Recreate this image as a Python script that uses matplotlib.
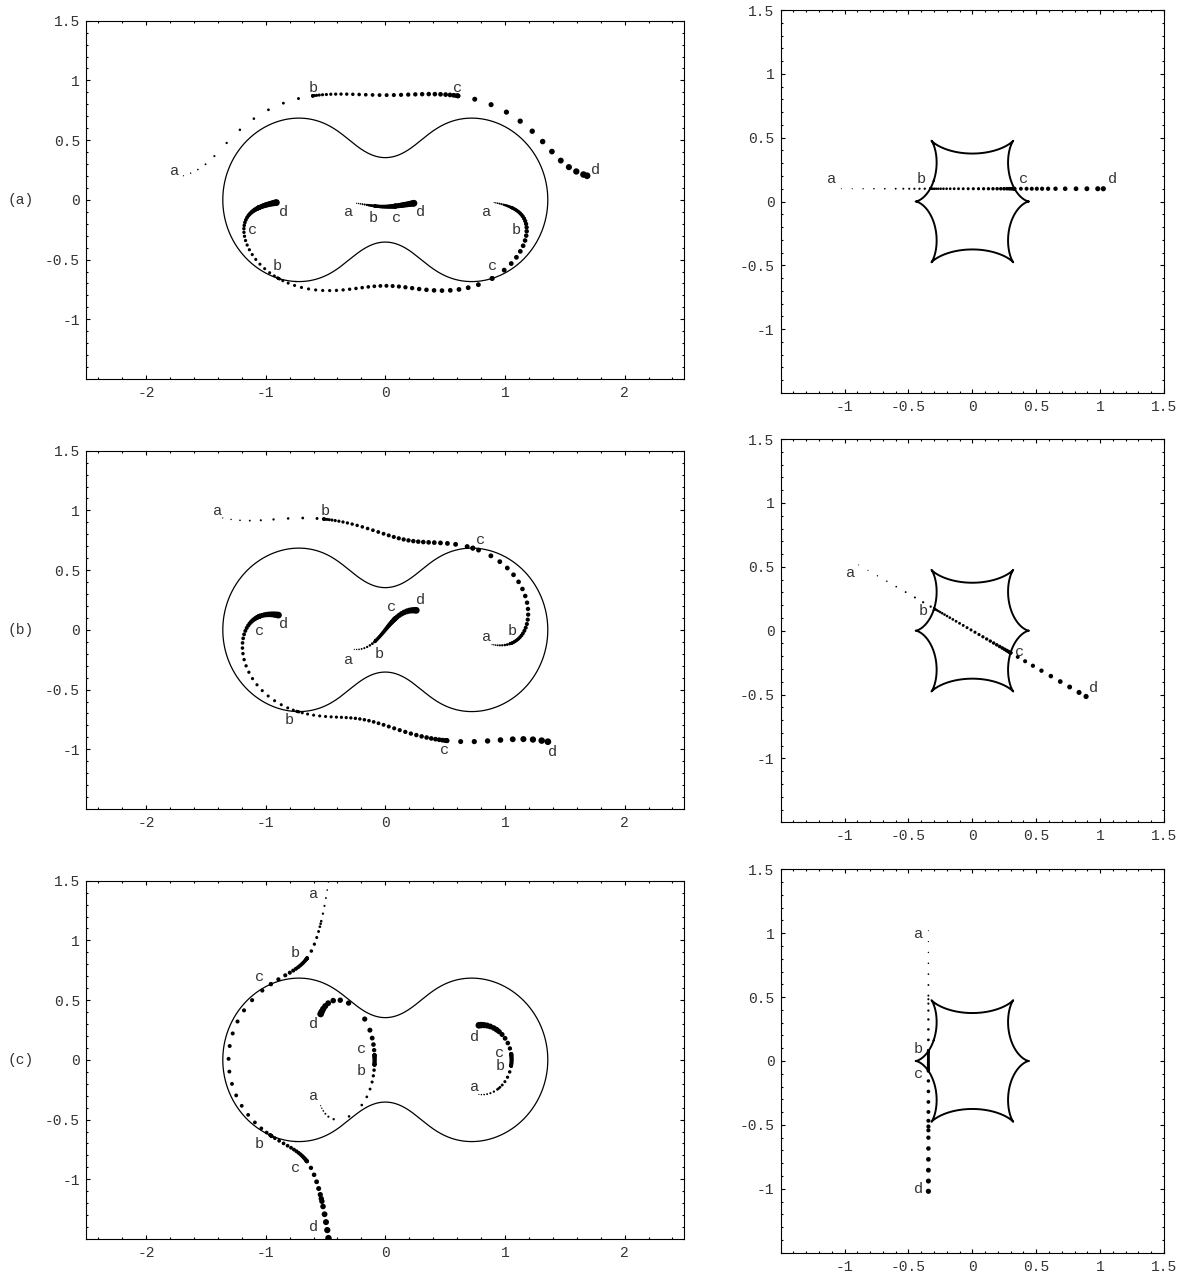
import numpy as np
import matplotlib
matplotlib.use("Agg")
import matplotlib.pyplot as plt
from matplotlib.ticker import MultipleLocator, FuncFormatter
import contourpy

plt.rcParams['font.family'] = ['Liberation Mono', 'DejaVu Sans Mono']
plt.rcParams['axes.unicode_minus'] = False

# binary lens: two equal point masses on the x axis
lens_x = [-0.6, 0.6]
lens_m = [0.5, 0.5]

# straight source tracks, running from a to d
src_start = [(-1.025, 0.10), (-0.89, 0.515), (-0.344, 1.02)]
src_end = [(1.025, 0.10), (0.89, -0.515), (-0.344, -1.02)]
panel_names = ['(a)', '(b)', '(c)']

# a-d labels in the image plane (left panels)
img_labels = [
    [('a', -1.76, 0.245), ('b', -0.60, 0.94), ('c', 0.60, 0.94), ('d', 1.757, 0.25),
     ('d', -0.854, -0.10), ('c', -1.112, -0.251), ('b', -0.906, -0.551),
     ('a', -0.307, -0.10), ('b', -0.097, -0.153), ('c', 0.097, -0.153), ('d', 0.296, -0.10),
     ('a', 0.85, -0.10), ('b', 1.097, -0.251), ('c', 0.899, -0.551)],
    [('a', -1.404, 0.997), ('b', -0.498, 0.997), ('c', 0.798, 0.752),
     ('d', -0.854, 0.05), ('c', -1.052, -0.006), ('b', -0.805, -0.752),
     ('c', 0.498, -1.008), ('d', 1.401, -1.019),
     ('a', -0.303, -0.251), ('b', -0.052, -0.203), ('c', 0.049, 0.195), ('d', 0.296, 0.251),
     ('a', 0.85, -0.056), ('b', 1.06, -0.006)],
    [('a', -0.599, 1.392), ('b', -0.753, 0.897), ('c', -1.052, 0.696),
     ('d', -0.599, 0.301), ('c', -0.199, 0.092), ('b', -0.199, -0.097), ('a', -0.599, -0.306),
     ('b', -1.052, -0.702), ('c', -0.753, -0.905), ('d', -0.599, -1.398),
     ('d', 0.749, 0.195), ('c', 0.959, 0.056), ('b', 0.959, -0.05), ('a', 0.749, -0.228)],
]
# a-d labels in the source plane (right panels)
src_labels = [
    [('a', -1.10, 0.174), ('b', -0.40, 0.174), ('c', 0.40, 0.174), ('d', 1.10, 0.174)],
    [('a', -0.955, 0.448), ('b', -0.383, 0.154), ('c', 0.373, -0.164), ('d', 0.945, -0.45)],
    [('a', -0.422, 0.998), ('b', -0.422, 0.094), ('c', -0.422, -0.10), ('d', -0.422, -1.002)],
]


def lens_map(z):
    zb = np.conj(z)
    return z - sum(m / (zb - x) for m, x in zip(lens_m, lens_x))


def shear(z):
    zb = np.conj(z)
    return sum(m / (zb - x) ** 2 for m, x in zip(lens_m, lens_x))


def solve_images(zeta):
    z1, z2 = lens_x
    m1, m2 = lens_m
    D = np.polymul([1, -z1], [1, -z2])
    N = np.polyadd(np.conj(zeta) * D, np.polyadd(m1 * np.array([1, -z2]), m2 * np.array([1, -z1])))
    P1 = np.polysub(N, z1 * D)
    P2 = np.polysub(N, z2 * D)
    poly = np.polymul([-1, zeta], np.polymul(P1, P2))
    poly = np.polyadd(poly, m1 * np.polymul(D, P2))
    poly = np.polyadd(poly, m2 * np.polymul(D, P1))
    roots = np.roots(poly)
    resid = np.abs(lens_map(roots) - zeta)
    return roots[resid < 1e-6]


def image_speed(z, u):
    E = shear(z)
    dz = (u - E * np.conj(u)) / (1 - np.abs(E) ** 2)
    return np.abs(dz)


def sample_track(p0, p1, step=0.16, ds_min=1e-7, ds_max=0.085):
    za = complex(*p0)
    zd = complex(*p1)
    length = abs(zd - za)
    u = (zd - za) / length
    s = 0.0
    im = solve_images(za)
    ss, imgs = [0.0], [im]
    while s < length:
        v = image_speed(im, u).sum()
        ds = step / v if np.isfinite(v) and v > 0 else ds_min
        s_new = min(s + float(np.clip(ds, ds_min, ds_max)), length)
        im_new = solve_images(za + s_new * u)
        if len(im_new) != len(im):
            # caustic crossing: find it and put a sample on each side
            lo, hi = s, s_new
            for _ in range(60):
                mid = 0.5 * (lo + hi)
                if len(solve_images(za + mid * u)) == len(im):
                    lo = mid
                else:
                    hi = mid
            if lo > s:
                ss.append(lo)
                imgs.append(solve_images(za + lo * u))
            s_new = hi
            im_new = solve_images(za + hi * u)
        s, im = s_new, im_new
        ss.append(s)
        imgs.append(im)
    frac = np.array(ss) / length
    return frac, za + np.array(ss) * u, imgs


# critical curve (det J = 0) and caustic
gx = np.linspace(-1.6, 1.6, 1500)
gy = np.linspace(-0.9, 0.9, 900)
GX, GY = np.meshgrid(gx, gy)
detJ = 1 - np.abs(shear(GX + 1j * GY)) ** 2
crit_lines = contourpy.contour_generator(GX, GY, detJ).lines(0.0)
caus_lines = []
for seg in crit_lines:
    zc = lens_map(seg[:, 0] + 1j * seg[:, 1])
    caus_lines.append(np.column_stack([zc.real, zc.imag]))

fig = plt.figure(figsize=(11.8, 12.72), dpi=100)
W, H = 1180.0, 1272.0
left_x = (86.2, 684.4)
right_x = (780.7, 1164.0)
left_box = [(20.7, 379.0), (450.7, 809.0), (880.7, 1239.0)]
right_box = [(10.0, 393.0), (439.1, 822.3), (869.4, 1252.6)]
zero_y = [200.0, 630.0, 1060.0]

fmt = FuncFormatter(lambda v, p: '%g' % v)
txt_color = '#333333'


def style_axes(ax, xticks, xminor, yticks, yminor):
    ax.set_xticks(xticks)
    ax.set_yticks(yticks)
    ax.xaxis.set_minor_locator(MultipleLocator(xminor))
    ax.yaxis.set_minor_locator(MultipleLocator(yminor))
    ax.xaxis.set_major_formatter(fmt)
    ax.yaxis.set_major_formatter(fmt)
    ax.tick_params(which='both', direction='in', top=True, right=True, width=0.8,
                   labelsize=10.5, labelcolor=txt_color)
    ax.tick_params(which='major', length=3)
    ax.tick_params(which='minor', length=1.6)
    ax.tick_params(axis='x', pad=5)
    ax.tick_params(axis='y', pad=4.5)
    for sp in ax.spines.values():
        sp.set_linewidth(0.8)


for k in range(3):
    frac, srcs, imgs = sample_track(src_start[k], src_end[k])

    # image plane
    t, b = left_box[k]
    axl = fig.add_axes([left_x[0] / W, 1 - b / H, (left_x[1] - left_x[0]) / W, (b - t) / H])
    for seg in crit_lines:
        axl.plot(seg[:, 0], seg[:, 1], color='k', lw=0.9)
    px, py, sz = [], [], []
    for f, im in zip(frac, imgs):
        dpx = 1.2 + 5.5 * f
        for z in im:
            px.append(z.real)
            py.append(z.imag)
            sz.append((dpx * 0.72) ** 2)
    axl.scatter(px, py, s=sz, c='k', linewidths=0)
    for lab, x, y in img_labels[k]:
        axl.text(x, y, lab, ha='center', va='center', fontsize=11, color=txt_color)
    axl.set_xlim(-2.5, 2.5)
    axl.set_ylim(-1.5, 1.5)
    style_axes(axl, [-2, -1, 0, 1, 2], 0.2, [-1, -0.5, 0, 0.5, 1, 1.5], 0.1)
    fig.text(21 / W, 1 - zero_y[k] / H, panel_names[k], ha='center', va='center',
             fontsize=10.5, color=txt_color)

    # source plane
    t, b = right_box[k]
    axr = fig.add_axes([right_x[0] / W, 1 - b / H, (right_x[1] - right_x[0]) / W, (b - t) / H])
    for seg in caus_lines:
        axr.plot(seg[:, 0], seg[:, 1], color='k', lw=1.4)
    axr.scatter(srcs.real, srcs.imag, s=((1.0 + 4.2 * frac) * 0.72) ** 2, c='k', linewidths=0)
    for lab, x, y in src_labels[k]:
        axr.text(x, y, lab, ha='center', va='center', fontsize=11, color=txt_color)
    axr.set_xlim(-1.5, 1.5)
    axr.set_ylim(-1.5, 1.5)
    style_axes(axr, [-1, -0.5, 0, 0.5, 1, 1.5], 0.1, [-1, -0.5, 0, 0.5, 1, 1.5], 0.1)

fig.savefig('out.png', dpi=100)
